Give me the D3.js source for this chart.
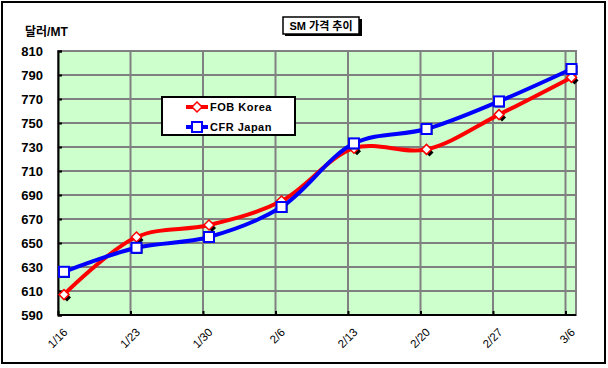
<!DOCTYPE html>
<html>
<head>
<meta charset="utf-8">
<script src="https://cdn.jsdelivr.net/npm/d3@7"></script>
<style>
  body { margin: 0; background: #fff; }
  svg { display: block; font-family: Arial, 'Liberation Sans', sans-serif; }
</style>
</head>
<body>
<svg id="chart" width="608" height="368"></svg>
<script>
const categories = ['1/16', '1/23', '1/30', '2/6', '2/13', '2/20', '2/27', '3/6'];
const fobKorea = [607, 655, 665, 685, 729, 728, 757, 788];
const cfrJapan = [626, 646, 655, 680, 733, 745, 768, 795];
const yTicks = [590, 610, 630, 650, 670, 690, 710, 730, 750, 770, 790, 810];

const series = [
  {name: 'FOB Korea', values: fobKorea, color: '#ff0000', marker: 'diamond'},
  {name: 'CFR Japan', values: cfrJapan, color: '#0000ff', marker: 'square'}
];

const plot = {left: 58, right: 576, top: 51, bottom: 315};
const ptOffset = 6;  // excel draws points a bit right of the gridline

const svg = d3.select('#chart');

// outer frame
svg.append('rect')
    .attr('x', 2).attr('y', 2)
    .attr('width', 603).attr('height', 361)
    .attr('fill', '#fff')
    .attr('stroke', '#000')
    .attr('stroke-width', 2);

const x = d3.scalePoint()
    .domain(categories)
    .range([plot.left, plot.left + 72.5 * (categories.length - 1)]);
const y = d3.scaleLinear()
    .domain([590, 810])
    .range([plot.bottom, plot.top]);

// plot area
svg.append('rect')
    .attr('x', plot.left).attr('y', plot.top)
    .attr('width', plot.right - plot.left)
    .attr('height', plot.bottom - plot.top)
    .attr('fill', '#ccffcc')
    .attr('stroke', '#808080')
    .attr('stroke-width', 2);

// gridlines
svg.append('g')
    .selectAll('line')
    .data(yTicks.slice(1, -1))
    .join('line')
      .attr('x1', plot.left).attr('x2', plot.right)
      .attr('y1', d => y(d)).attr('y2', d => y(d))
      .attr('stroke', '#808080')
      .attr('stroke-width', 2);
svg.append('g')
    .selectAll('line')
    .data(categories.slice(1))
    .join('line')
      .attr('x1', d => x(d)).attr('x2', d => x(d))
      .attr('y1', plot.top).attr('y2', plot.bottom)
      .attr('stroke', '#808080')
      .attr('stroke-width', 2);

// y axis
const yAxis = svg.append('g')
    .attr('transform', `translate(${plot.left},0)`)
    .call(d3.axisLeft(y).tickValues(yTicks).tickSize(-4).tickPadding(15));
yAxis.select('.domain').attr('stroke', '#000').attr('stroke-width', 2);
yAxis.selectAll('.tick line').attr('stroke', '#000').attr('stroke-width', 2);
yAxis.selectAll('.tick text')
    .attr('font-size', 13)
    .attr('font-weight', 'bold')
    .attr('fill', '#000')
    .attr('font-family', 'Arial, sans-serif');

// x axis
const xAxis = svg.append('g')
    .attr('transform', `translate(0,${plot.bottom})`)
    .call(d3.axisBottom(x).tickSize(-4).tickFormat(''));
xAxis.select('.domain')
    .attr('d', `M${plot.left},0H${plot.right}`)
    .attr('stroke', '#000').attr('stroke-width', 2);
xAxis.selectAll('.tick line').attr('stroke', '#000').attr('stroke-width', 2);
xAxis.selectAll('.tick')
  .append('text')
    .attr('transform', 'translate(7,15) rotate(-45)')
    .attr('text-anchor', 'end')
    .attr('dy', '0.35em')
    .attr('font-size', 11.5)
    .attr('fill', '#000')
    .attr('font-family', 'Arial, sans-serif')
    .text(d => d);

// unit label
svg.append('text')
    .attr('x', 25).attr('y', 36)
    .attr('font-size', 12)
    .attr('font-weight', 'bold')
    .attr('font-family', "Arial, 'Noto Sans CJK KR', sans-serif")
    .text('달러/MT');

// title box
svg.append('rect')
    .attr('x', 285).attr('y', 19)
    .attr('width', 77).attr('height', 17)
    .attr('fill', '#000');
svg.append('rect')
    .attr('x', 283).attr('y', 17)
    .attr('width', 76).attr('height', 17)
    .attr('fill', '#fff')
    .attr('stroke', '#000')
    .attr('stroke-width', 1.5);
svg.append('text')
    .attr('x', 321).attr('y', 30)
    .attr('text-anchor', 'middle')
    .attr('font-size', 11)
    .attr('font-weight', 'bold')
    .attr('font-family', "Arial, 'Noto Sans CJK KR', sans-serif")
    .text('SM 가격 추이');

function drawMarker(g, type, color, cx, cy) {
  if (type === 'square') {
    g.append('rect')
        .attr('x', cx - 4).attr('y', cy - 4)
        .attr('width', 10).attr('height', 10)
        .attr('fill', '#000');
    g.append('rect')
        .attr('x', cx - 5).attr('y', cy - 5)
        .attr('width', 10).attr('height', 10)
        .attr('fill', '#fff')
        .attr('stroke', color)
        .attr('stroke-width', 2);
  } else {
    const dia = (ox, oy, r) => `M${ox},${oy - r}L${ox + r},${oy}L${ox},${oy + r}L${ox - r},${oy}Z`;
    g.append('path')
        .attr('d', dia(cx + 3, cy + 3, 4))
        .attr('fill', '#000');
    g.append('path')
        .attr('d', dia(cx, cy, 5))
        .attr('fill', '#fff')
        .attr('stroke', color)
        .attr('stroke-width', 1.5);
  }
}

const line = d3.line()
    .x((d, i) => x(categories[i]) + ptOffset)
    .y(d => y(d))
    .curve(d3.curveCatmullRom.alpha(0.5));

series.forEach(s => {
  const g = svg.append('g').attr('class', 'series');
  g.append('path')
      .attr('d', line(s.values))
      .attr('fill', 'none')
      .attr('stroke', s.color)
      .attr('stroke-width', 4);
  s.values.forEach((v, i) => drawMarker(g, s.marker, s.color, x(categories[i]) + ptOffset, y(v)));
});

// legend
const legend = svg.append('g').attr('transform', 'translate(162,97)');
legend.append('rect')
    .attr('width', 133).attr('height', 38)
    .attr('fill', '#fff')
    .attr('stroke', '#000')
    .attr('stroke-width', 2);
series.forEach((s, i) => {
  const ly = 10 + i * 20;
  legend.append('line')
      .attr('x1', 24).attr('x2', 46)
      .attr('y1', ly).attr('y2', ly)
      .attr('stroke', s.color)
      .attr('stroke-width', 4);
  const mg = legend.append('g');
  if (s.marker === 'square') {
    mg.append('rect')
        .attr('x', 30).attr('y', ly - 5)
        .attr('width', 10).attr('height', 10)
        .attr('fill', '#fff')
        .attr('stroke', s.color)
        .attr('stroke-width', 2);
  } else {
    mg.append('path')
        .attr('d', `M35,${ly - 5}L40,${ly}L35,${ly + 5}L30,${ly}Z`)
        .attr('fill', '#fff')
        .attr('stroke', s.color)
        .attr('stroke-width', 1.5);
  }
  legend.append('text')
      .attr('x', 48).attr('y', ly + 4)
      .attr('font-size', 11)
      .attr('font-weight', 'bold')
      .attr('letter-spacing', 0.5)
      .text(s.name);
});
</script>
</body>
</html>
